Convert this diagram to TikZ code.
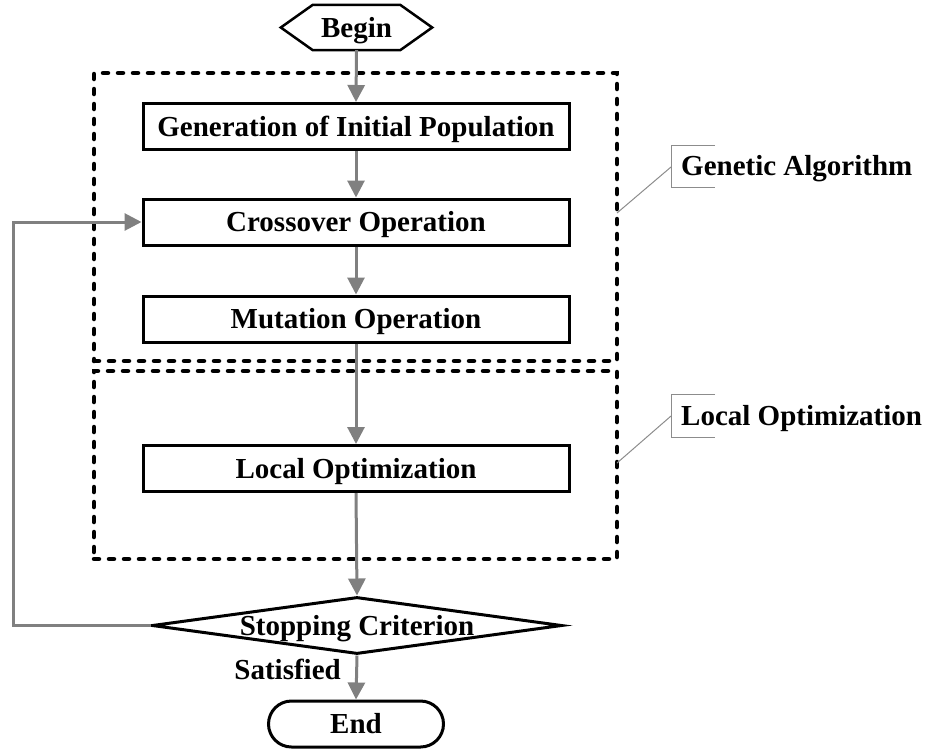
\documentclass[tikz,border=0pt]{standalone}
\usepackage{fontspec}
\setmainfont{Liberation Serif}
\usetikzlibrary{arrows.meta,calc,shapes.geometric}
\definecolor{arrowgray}{RGB}{128,128,128}
\definecolor{calloutgray}{RGB}{140,140,140}
\begin{document}
\begin{tikzpicture}[x=1pt,y=-1pt,
  every node/.style={font=\fontsize{29}{34}\selectfont\bfseries,text height=19pt,text depth=0pt,inner sep=0pt},
  box/.style={draw=black,line width=3pt,minimum width=426pt,minimum height=46pt},
  flow/.style={draw=arrowgray,line width=3pt,-{Triangle[length=17pt,width=17pt]}},
  group/.style={draw=black,line width=4.5pt,dash pattern=on 5pt off 10pt,line cap=round,minimum width=523pt},
  callout/.style={draw=calloutgray,line width=1pt}]
\useasboundingbox (0,0) rectangle (925,748);

% dashed groups
\node[group,minimum height=288pt] (ga) at (355.5,217) {};
\node[group,minimum height=188pt] (lo) at (355.5,465) {};

% begin hexagon
\node[minimum width=151pt,minimum height=45pt] (begin) at (356.5,27.5) {Begin};
\draw[line width=2.5pt,line join=miter] (begin.west) -- ($(begin.north west)+(32,0)$) -- ($(begin.north east)+(-32,0)$) -- (begin.east) -- ($(begin.south east)+(-32,0)$) -- ($(begin.south west)+(32,0)$) -- cycle;

% process boxes
\node[box] (gen) at (356,126.5) {Generation of Initial Population};
\node[box] (cross) at (356,222) {Crossover Operation};
\node[box] (mut) at (356,319) {Mutation Operation};
\node[box] (local) at (356,468.5) {Local Optimization};

% decision
\node[diamond,draw=black,line width=3pt,minimum width=410pt,minimum height=57pt,text height=0pt] (stop) at (357,625.5) {};
\node (stoptext) at (357,625.5) {Stopping Criterion};

% end
\node[draw=black,line width=3pt,rounded corners=23pt,minimum width=175pt,minimum height=46pt] (finish) at (356,724) {End};

% flow arrows
\draw[flow] (begin.south) -- (gen.north);
\draw[flow] (gen.south) -- (cross.north);
\draw[flow] (cross.south) -- (mut.north);
\draw[flow] (mut.south) -- (local.north);
\draw[flow] (local.south) -- (stop.north);
\draw[flow] (stop.south) -- (finish.north);
\node[anchor=east] (sat) at (341,670) {Satisfied};

% feedback loop
\coordinate (fb) at (13,222);
\draw[flow] (stop.west) -| (fb) -- (cross.west);

% callouts
\node[anchor=west] (galabel) at (681,166) {Genetic Algorithm};
\coordinate (gatop) at (715,145);
\coordinate (gabot) at (715,187);
\coordinate (gamid) at (671,167);
\coordinate (gaedge) at (617,213);
\draw[callout] (gatop) -- (671,145) -- (671,187) -- (gabot);
\draw[callout] (gamid) -- (gaedge);

\node[anchor=west] (lolabel) at (681,416) {Local Optimization};
\coordinate (lotop) at (715,394);
\coordinate (lobot) at (715,437);
\coordinate (lomid) at (671,416);
\coordinate (loedge) at (617,463);
\draw[callout] (lotop) -- (671,394) -- (671,437) -- (lobot);
\draw[callout] (lomid) -- (loedge);
\end{tikzpicture}
\end{document}
